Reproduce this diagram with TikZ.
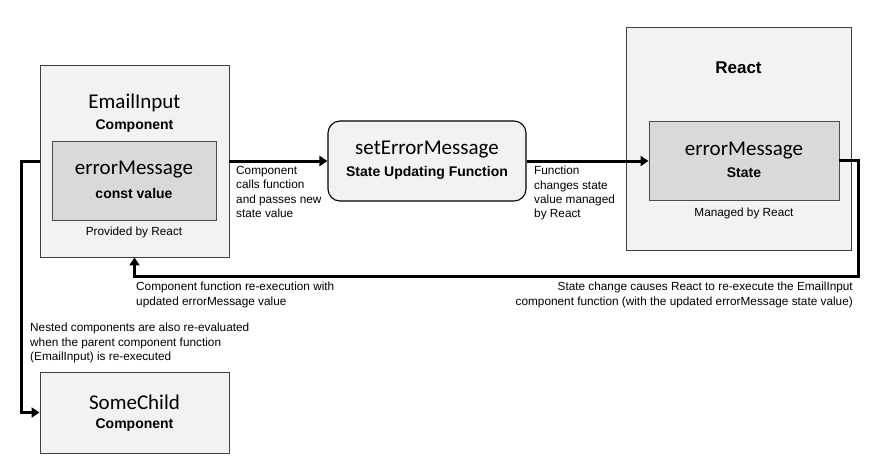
\documentclass[tikz,border=0pt]{standalone}
\usepackage{fontspec}
\setmainfont{Liberation Sans}
\newfontfamily\titlefont{Carlito}
\usetikzlibrary{arrows.meta}

\begin{document}
\begin{tikzpicture}[x=1pt, y=-1pt,
  outerbox/.style={draw=black!75, fill=black!5, line width=0.9pt, inner sep=0pt},
  innerbox/.style={draw=black!70, fill=black!15, line width=0.9pt, inner sep=0pt},
  funcbox/.style={draw=black, fill=black!5, line width=1.1pt, rounded corners=12pt, inner sep=0pt},
  title/.style={font=\titlefont\fontsize{21}{23}\selectfont},
  subtitle/.style={font=\bfseries\fontsize{14}{16}\selectfont},
  note/.style={font=\fontsize{11.8}{14.3}\selectfont, inner sep=0pt},
  flow/.style={line width=3pt, -{Triangle[length=8pt,width=10pt]}}]
  \useasboundingbox (0,0) rectangle (877,472);

  % EmailInput component
  \node[outerbox, minimum width=189, minimum height=192] (emailinput) at (134.5,161) {};
  \node[title] (emailname) at (134.5,103) {EmailInput};
  \node[subtitle] (emailsub) at (134.5,126) {Component};
  \node[innerbox, minimum width=164, minimum height=79] (errmsg) at (134,180.5) {};
  \node[title] at (134,170) {errorMessage};
  \node[subtitle] at (134,193) {const value};
  \node[note] (provided) at (134,232) {Provided by React};

  % state updating function
  \node[funcbox, minimum width=198, minimum height=80] (seterr) at (427,161) {};
  \node[title] at (427,150) {setErrorMessage};
  \node[subtitle] at (427,173) {State Updating Function};

  % React
  \node[outerbox, minimum width=225, minimum height=223] (react) at (738.5,138.5) {};
  \node[subtitle, font=\bfseries\fontsize{17}{19}\selectfont] (reactname) at (738.5,68) {React};
  \node[innerbox, minimum width=190, minimum height=79] (reactstate) at (744,160.5) {};
  \node[title] at (744,151) {errorMessage};
  \node[subtitle] at (744,173) {State};
  \node[note] (managed) at (744,213) {Managed by React};

  % SomeChild component
  \node[outerbox, minimum width=189, minimum height=81] (somechild) at (134.5,412.5) {};
  \node[title] at (134.5,402) {SomeChild};
  \node[subtitle] at (134.5,425) {Component};

  % connectors
  \draw[flow] (seterr.west -| emailinput.east) -- (seterr.west);
  \draw[flow] (seterr.east) -- (seterr.east -| reactstate.west);
  \coordinate (turn) at (858,276);
  \draw[flow] (reactstate.east) -| (turn) -| (emailinput.south);
  \draw[flow] (seterr.west -| emailinput.west) -- ++(-18,0) |- (somechild.west);

  % labels
  \node[note, anchor=north west, align=left] at (236,166) {Component\\calls function\\and passes new\\state value};
  \node[note, anchor=north west, align=left] at (534,166) {Function\\changes state\\value managed\\by React};
  \node[note, anchor=north west, align=left] at (136,282) {Component function re-execution with\\updated errorMessage value};
  \node[note, anchor=north east, align=right] at (853,282) {State change causes React to re-execute the EmailInput\\component function (with the updated errorMessage state value)};
  \node[note, anchor=north west, align=left] at (30,323) {Nested components are also re-evaluated\\when the parent component function\\(EmailInput) is re-executed};
\end{tikzpicture}
\end{document}
